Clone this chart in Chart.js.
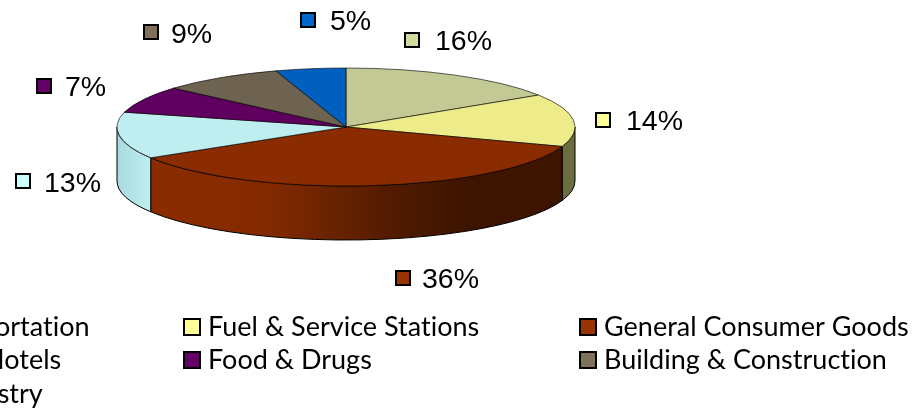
<!DOCTYPE html>
<html>
<head>
<meta charset="utf-8">
<title>Pie</title>
<style>
  html, body { margin: 0; padding: 0; background: #fff; overflow: hidden; }
  canvas { display: block; }
</style>
<script src="https://cdn.jsdelivr.net/npm/chart.js@4"></script>
</head>
<body>
<canvas id="chart" width="913" height="409"></canvas>
<script>
const categories = ['Transportation', 'Fuel & Service Stations', 'General Consumer Goods', 'Hotels', 'Food & Drugs', 'Building & Construction', 'Industry'];
// the printed labels are these rounded
const shares = [15.9, 14.45, 35.9, 12.8, 7.4, 8.6, 4.95];

const topColors = ['#c3c994', '#eeec8a', '#8b2c00', '#bfeef0', '#5f005f', '#6e6350', '#0060bf'];
const swatchColors = ['#d3da9e', '#ffff99', '#993300', '#ccffff', '#660066', '#7f7059', '#0066cc'];
const wallStops = [
  [[0, '#6f7248'], [1, '#6f7248']],
  [[0, '#6b6d3f'], [1, '#6b6d3f']],
  [[0, '#8b2c00'], [0.28, '#852a00'], [0.46, '#662200'], [0.6, '#501a00'], [0.78, '#3c1400'], [1, '#3c1400']],
  [[0, '#a9dadd'], [1, '#bfeef0']],
  [[0, '#400040'], [1, '#400040']],
  [[0, '#4d4538'], [1, '#4d4538']],
  [[0, '#004080'], [1, '#004080']],
];

// where the pie sits on the page (flattened ellipse plus wall height)
const pie = { x: 346, y: 127, rx: 229, ry: 59, depth: 54 };

// marker box and text position of each percent label, same order as categories
const labelSpots = [
  [404, 32, 435, 50],
  [595, 112, 626, 130],
  [395, 270, 422, 288],
  [15, 173, 44, 192],
  [36, 78, 65, 96],
  [143, 24, 171, 43],
  [300, 12, 330, 30],
];

// legend cells: swatch x, text x, text baseline (first column runs off the page)
const legendSpots = [
  [-112, -83, 336],
  [184, 208, 336],
  [580, 604, 336],
  [-112, -16, 369],
  [184, 208, 369],
  [580, 604, 369],
  [-112, -55, 403],
];

const flatWalls = {
  id: 'flatWalls',
  beforeDatasetsDraw(chart) {
    const { ctx } = chart;
    const arcs = chart.getDatasetMeta(0).data;

    arcs.forEach((arc, i) => {
      const from = Math.max(arc.startAngle, 0);
      const to = Math.min(arc.endAngle, Math.PI);
      if (to <= from) return;

      const x0 = pie.x + pie.rx * Math.cos(to);
      const x1 = pie.x + pie.rx * Math.cos(from);
      const grad = ctx.createLinearGradient(x0, 0, x1, 0);
      wallStops[i].forEach(([at, color]) => grad.addColorStop(at, color));

      ctx.save();
      ctx.beginPath();
      ctx.ellipse(pie.x, pie.y, pie.rx, pie.ry, 0, from, to);
      ctx.ellipse(pie.x, pie.y + pie.depth, pie.rx, pie.ry, 0, to, from, true);
      ctx.closePath();
      ctx.fillStyle = grad;
      ctx.fill();
      ctx.lineWidth = 1;
      ctx.strokeStyle = '#000';
      ctx.stroke();
      ctx.restore();
    });

    // squash the library's arcs onto the top ellipse
    const center = arcs[0];
    ctx.save();
    ctx.translate(pie.x, pie.y);
    ctx.scale(1, pie.ry / pie.rx);
    ctx.translate(-center.x, -center.y);
  },
  afterDatasetsDraw(chart) {
    chart.ctx.restore();
  },
};

function drawBox(ctx, x, y, size, color) {
  ctx.fillStyle = color;
  ctx.strokeStyle = '#000';
  ctx.lineWidth = 2;
  ctx.fillRect(x, y, size, size);
  ctx.strokeRect(x, y, size, size);
}

const pageText = {
  id: 'pageText',
  afterDraw(chart) {
    const { ctx } = chart;
    ctx.save();
    ctx.textAlign = 'left';
    ctx.textBaseline = 'alphabetic';

    shares.forEach((share, i) => {
      const [bx, by, tx, ty] = labelSpots[i];
      drawBox(ctx, bx + 1, by + 1, 14, swatchColors[i]);
      ctx.fillStyle = '#000';
      ctx.font = '28.5px "Liberation Sans"';
      ctx.fillText(Math.round(share) + '%', tx, ty);
    });

    // a touch of spacing keeps Lato from joining "ti" into a ligature
    ctx.letterSpacing = '0.01px';
    categories.forEach((name, i) => {
      const [bx, tx, ty] = legendSpots[i];
      drawBox(ctx, bx, ty - 17, 16, swatchColors[i]);
      ctx.fillStyle = '#000';
      ctx.font = '27px Lato';
      ctx.fillText(name, tx, ty);
    });
    ctx.restore();
  },
};

new Chart(document.getElementById('chart'), {
  type: 'pie',
  data: {
    labels: categories,
    datasets: [{
      data: shares,
      backgroundColor: topColors,
      borderColor: '#000',
      borderWidth: 1,
      radius: pie.rx,
      clip: false,
    }],
  },
  options: {
    responsive: false,
    animation: false,
    layout: { padding: 0 },
    plugins: { legend: { display: false }, tooltip: { enabled: false } },
  },
  plugins: [flatWalls, pageText],
});
</script>
</body>
</html>
